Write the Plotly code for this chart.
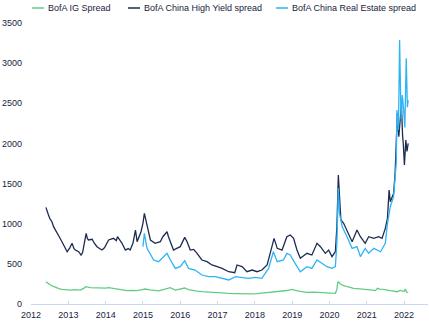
import plotly.graph_objects as go

# ---------------- data ----------------
series_names = ["BofA IG Spread", "BofA China High Yield spread", "BofA China Real Estate spread"]
series_colors = ["#62cc84", "#1c2b4f", "#2db4f4"]

ig_dates = ["2012-05-26", "2012-06-14", "2012-07-09", "2012-07-31", "2012-08-25", "2012-10-01", "2012-10-30",
            "2012-12-02", "2013-01-19", "2013-03-08", "2013-04-28", "2013-05-31", "2013-06-21", "2013-08-04",
            "2013-09-20", "2013-11-10", "2014-01-01", "2014-01-30", "2014-03-15", "2014-04-24", "2014-06-14",
            "2014-07-28", "2014-09-20", "2014-11-03", "2014-12-13", "2015-01-23", "2015-03-08", "2015-04-16",
            "2015-06-03", "2015-07-20", "2015-09-24", "2015-11-14", "2016-01-01", "2016-02-14", "2016-03-22",
            "2016-04-28", "2016-06-14", "2016-07-31", "2016-10-05", "2016-12-09", "2017-02-14", "2017-04-20",
            "2017-06-25", "2017-08-29", "2017-10-19", "2017-12-06", "2018-01-23", "2018-03-10", "2018-05-01",
            "2018-06-17", "2018-08-08", "2018-09-24", "2018-11-10", "2019-01-01", "2019-01-30", "2019-03-22",
            "2019-05-26", "2019-07-31", "2019-10-05", "2019-12-14", "2020-02-06", "2020-02-28", "2020-03-14",
            "2020-03-22", "2020-04-01", "2020-04-16", "2020-05-19", "2020-06-21", "2020-08-25", "2020-10-27",
            "2021-01-05", "2021-02-24", "2021-03-25", "2021-04-16", "2021-05-08", "2021-06-14", "2021-08-19",
            "2021-10-01", "2021-10-24", "2021-11-24", "2021-12-14", "2022-01-01", "2022-01-12", "2022-01-26",
            "2022-02-10"]
ig_values = [278, 255, 237, 222, 208, 192, 183,
             178, 174, 180, 172, 195, 216, 203,
             200, 195, 198, 203, 194, 187, 175,
             166, 168, 166, 176, 187, 175, 166,
             164, 180, 203, 174, 185, 199, 178,
             166, 160, 153, 146, 141, 138, 133,
             130, 125, 122, 125, 128, 133, 142,
             153, 157, 162, 168, 183, 170, 158,
             145, 148, 145, 140, 136, 133, 180,
             266, 275, 249, 230, 216, 195, 188,
             183, 172, 166, 195, 185, 183, 166,
             158, 153, 170, 160, 155, 187, 150,
             140]

hy_dates = ["2012-05-26", "2012-06-05", "2012-06-20", "2012-07-05", "2012-07-24", "2012-08-10", "2012-08-25",
            "2012-09-12", "2012-09-28", "2012-10-30", "2012-11-20", "2012-12-02", "2012-12-20", "2013-01-15",
            "2013-02-06", "2013-02-25", "2013-03-10", "2013-04-12", "2013-05-05", "2013-05-20", "2013-06-24",
            "2013-07-05", "2013-07-16", "2013-08-22", "2013-09-10", "2013-10-08", "2013-11-25", "2013-12-20",
            "2014-01-30", "2014-03-18", "2014-04-15", "2014-04-27", "2014-06-10", "2014-07-13", "2014-08-10",
            "2014-08-29", "2014-09-25", "2014-10-20", "2014-11-05", "2014-12-13", "2015-01-01", "2015-01-15",
            "2015-02-10", "2015-03-15", "2015-04-30", "2015-06-20", "2015-07-15", "2015-08-25", "2015-09-08",
            "2015-10-27", "2015-11-28", "2016-01-01", "2016-02-14", "2016-03-08", "2016-04-08", "2016-05-12",
            "2016-06-14", "2016-07-31", "2016-09-20", "2016-11-06", "2016-12-28", "2017-02-14", "2017-04-20",
            "2017-06-18", "2017-07-10", "2017-08-29", "2017-10-15", "2017-12-06", "2018-01-23", "2018-03-10",
            "2018-05-01", "2018-06-10", "2018-07-08", "2018-08-08", "2018-09-24", "2018-11-10", "2018-12-13",
            "2019-01-15", "2019-02-17", "2019-03-22", "2019-05-26", "2019-07-13", "2019-09-01", "2019-10-05",
            "2019-11-22", "2019-12-24", "2020-01-26", "2020-02-28", "2020-03-14", "2020-03-28", "2020-04-08",
            "2020-04-22", "2020-05-19", "2020-06-21", "2020-08-10", "2020-09-27", "2020-10-30", "2020-12-16",
            "2021-01-19", "2021-03-10", "2021-04-28", "2021-05-30", "2021-07-01", "2021-07-22", "2021-08-07",
            "2021-08-19", "2021-09-20", "2021-10-05", "2021-10-19", "2021-10-27", "2021-11-10", "2021-11-22",
            "2021-12-06", "2021-12-17", "2021-12-24", "2022-01-04", "2022-01-18", "2022-01-29", "2022-02-10"]
hy_values = [1204, 1150, 1108, 1060, 1025, 960, 921,
             880, 850, 776, 720, 693, 651, 700,
             756, 690, 672, 651, 610, 640, 880,
             820, 797, 806, 760, 714, 672, 700,
             797, 818, 790, 838, 756, 672, 690,
             672, 756, 921, 776, 900, 1005, 1130,
             963, 797, 756, 776, 838, 900, 838,
             672, 693, 714, 830, 776, 672, 680,
             631, 548, 527, 486, 465, 444, 402,
             390, 486, 465, 402, 423, 402, 423,
             486, 672, 818, 693, 672, 838, 859,
             818, 672, 569, 631, 610, 756, 714,
             631, 672, 590, 651, 963, 1606, 1336,
             1046, 1005, 921, 776, 921, 838, 756,
             838, 818, 838, 818, 942, 1067, 1420,
             1274, 1378, 1628, 2042, 2375, 2083, 2250,
             2480, 2100, 2000, 1731, 2042, 1900, 2000]

re_dates = ["2015-01-01", "2015-01-15", "2015-02-10", "2015-03-20", "2015-04-16", "2015-06-03", "2015-07-01",
            "2015-08-25", "2015-09-27", "2015-11-14", "2016-01-01", "2016-02-14", "2016-03-22", "2016-05-25",
            "2016-07-31", "2016-10-05", "2016-12-09", "2017-02-14", "2017-04-20", "2017-06-25", "2017-08-29",
            "2017-10-30", "2018-01-05", "2018-03-10", "2018-05-15", "2018-07-01", "2018-08-08", "2018-10-08",
            "2018-11-10", "2018-12-13", "2019-01-30", "2019-03-22", "2019-05-26", "2019-07-13", "2019-09-01",
            "2019-10-20", "2019-12-08", "2020-01-26", "2020-02-28", "2020-03-14", "2020-03-28", "2020-04-08",
            "2020-05-05", "2020-06-21", "2020-08-10", "2020-09-27", "2020-10-30", "2020-12-16", "2021-01-19",
            "2021-03-10", "2021-05-15", "2021-07-01", "2021-07-22", "2021-08-19", "2021-09-20", "2021-10-16",
            "2021-10-23", "2021-11-07", "2021-11-18", "2021-12-02", "2021-12-14", "2021-12-28", "2022-01-08",
            "2022-01-22", "2022-02-02", "2022-02-10"]
re_values = [714, 880, 693, 600, 548, 527, 560,
             631, 548, 444, 465, 540, 444, 423,
             361, 340, 340, 320, 299, 340, 332,
             320, 332, 320, 444, 651, 527, 548,
             631, 610, 507, 402, 465, 444, 548,
             507, 465, 444, 465, 756, 1441, 1130,
             963, 838, 693, 714, 590, 693, 631,
             693, 651, 756, 1005, 1212, 1336, 1752,
             2416, 2167, 3288, 2300, 2603, 2416, 2200,
             3060, 2450, 2540]

y_ticks = [0, 500, 1000, 1500, 2000, 2500, 3000, 3500]
x_tick_labels = ["2012", "2013", "2014", "2015", "2016", "2017", "2018", "2019", "2020", "2021", "2022"]

# ---------------- figure ----------------
W, H = 429, 326
ML, MR, MT, MB = 31, 1, 23, 22
PW, PH = W - ML - MR, H - MT - MB
TEXT = "#1a2340"
FONT = "Liberation Sans, Arial, sans-serif"

fig = go.Figure()
for name, color, xs, ys in zip(series_names, series_colors,
                               [ig_dates, hy_dates, re_dates],
                               [ig_values, hy_values, re_values]):
    fig.add_trace(go.Scatter(x=xs, y=ys, mode="lines", name=name,
                             line=dict(color=color, width=1.3), showlegend=False))

# manual legend (short line keys like the reference)
def px_x(p):
    return (p - ML) / PW

def px_y(p):
    return 1 - (p - MT) / PH

legend_x = [32, 128, 276]
shapes, annotations = [], []
for name, color, lx in zip(series_names, series_colors, legend_x):
    shapes.append(dict(type="line", xref="paper", yref="paper",
                       x0=px_x(lx), x1=px_x(lx + 12), y0=px_y(8), y1=px_y(8),
                       line=dict(color=color, width=1.5)))
    annotations.append(dict(xref="paper", yref="paper", x=px_x(lx + 14), y=px_y(8),
                            text=name, showarrow=False, xanchor="left", yanchor="middle",
                            font=dict(size=9, color=TEXT, family=FONT)))

fig.update_layout(
    width=W, height=H,
    margin=dict(l=ML, r=MR, t=MT, b=MB, pad=0),
    paper_bgcolor="white", plot_bgcolor="white",
    font=dict(family=FONT, size=9, color=TEXT),
    shapes=shapes, annotations=annotations,
    xaxis=dict(type="date", range=["2012-01-01", "2022-08-23"],
               tickvals=[f"{y}-01-01" for y in x_tick_labels], ticktext=x_tick_labels,
               showgrid=False, zeroline=False, showline=True, linecolor="#c8d8ee", linewidth=1,
               ticks="inside", ticklen=3, tickcolor="#c8d8ee",
               tickfont=dict(size=9, color=TEXT, family=FONT), ticklabelstandoff=2),
    yaxis=dict(range=[0, 3500], tickvals=y_ticks, ticktext=[str(v) for v in y_ticks],
               showgrid=False, zeroline=False, showline=False, ticks="",
               tickfont=dict(size=9, color=TEXT, family=FONT), ticklabelstandoff=8),
)

fig.write_html("out.html")
